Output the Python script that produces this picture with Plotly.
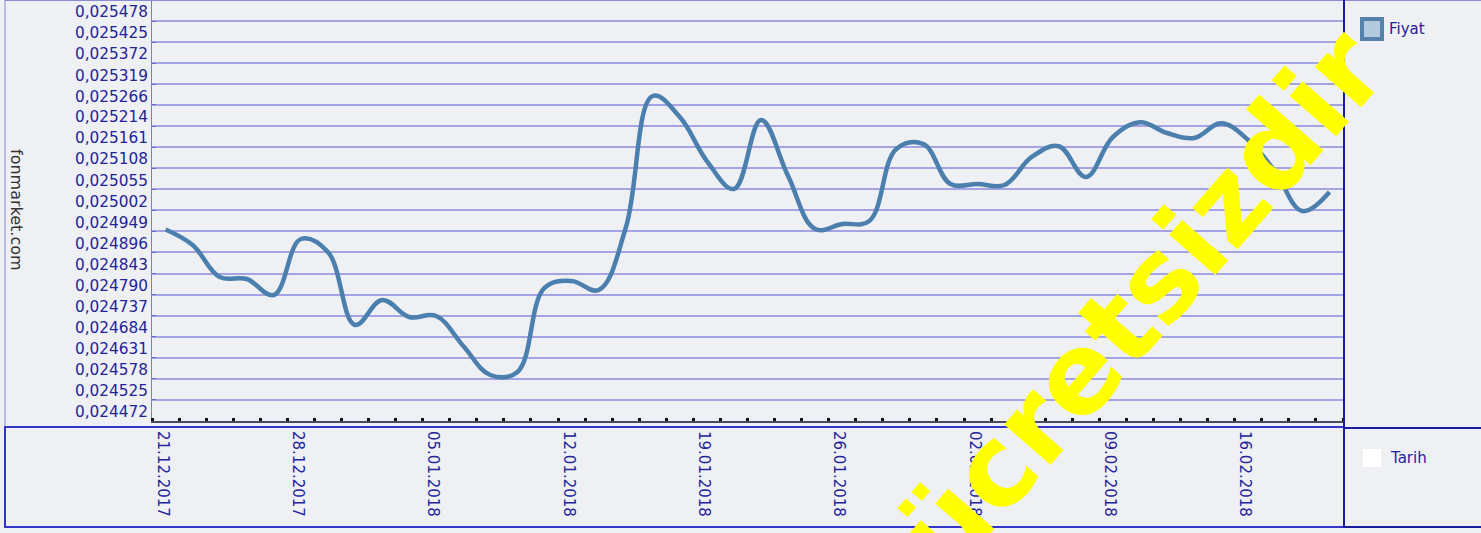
import plotly.graph_objects as go

# ---------------- data ----------------
dates = ["21.12.2017", "22.12.2017", "25.12.2017", "26.12.2017", "27.12.2017",
         "28.12.2017", "29.12.2017", "02.01.2018", "03.01.2018", "04.01.2018",
         "05.01.2018", "08.01.2018", "09.01.2018", "10.01.2018", "11.01.2018",
         "12.01.2018", "15.01.2018", "16.01.2018", "17.01.2018", "18.01.2018",
         "19.01.2018", "22.01.2018", "23.01.2018", "24.01.2018", "25.01.2018",
         "26.01.2018", "29.01.2018", "30.01.2018", "31.01.2018", "01.02.2018",
         "02.02.2018", "05.02.2018", "06.02.2018", "07.02.2018", "08.02.2018",
         "09.02.2018", "12.02.2018", "13.02.2018", "14.02.2018", "15.02.2018",
         "16.02.2018", "19.02.2018", "20.02.2018", "21.02.2018"]

prices = [0.0249007, 0.0248617, 0.0247812, 0.0247762, 0.0247359,
          0.0248768, 0.0248441, 0.0246605, 0.0247234, 0.0246806,
          0.0246831, 0.0246077, 0.0245347, 0.0245423, 0.0247536,
          0.0247712, 0.0247485, 0.0249045, 0.0252365, 0.0251837,
          0.0250730, 0.0250026, 0.0251761, 0.0250353, 0.0249020,
          0.0249145, 0.0249221, 0.0251032, 0.0251153, 0.0250152,
          0.0250152, 0.0250127, 0.0250831, 0.0251102, 0.0250328,
          0.0251334, 0.0251706, 0.0251434, 0.0251309, 0.0251681,
          0.0251258, 0.0250453, 0.0249472, 0.0249950]

y_tick_values = [0.024472, 0.024525, 0.024578, 0.024631, 0.024684,
                 0.024737, 0.024790, 0.024843, 0.024896, 0.024949,
                 0.025002, 0.025055, 0.025108, 0.025161, 0.025214,
                 0.025266, 0.025319, 0.025372, 0.025425, 0.025478]
y_tick_labels = [f"{v:.6f}".replace(".", ",") for v in y_tick_values]
y_range = [0.024419, 0.025478]
label_every = 5

series_name = "Fiyat"
x_name = "Tarih"
axis_title = "fonmarket.com"
watermark = "ücretsizdir"

# ---------------- layout helpers ----------------
W, H = 1481, 533
L, R, T, B = 152, 1343, 0, 421   # plot area in pixels


def fx(px):
    return (px - L) / (R - L)


def fy(py):
    return (B - py) / (B - T)


idx = list(range(len(dates)))
navy = "#23239a"
font_family = "DejaVu Sans"

fig = go.Figure()
fig.add_trace(go.Scatter(
    x=idx, y=prices, mode="lines", name=series_name,
    line=dict(color="#4b7fae", width=4.5, shape="spline", smoothing=1.1),
    text=dates, hovertemplate="%{text}<br>%{y:.6f}<extra></extra>",
    showlegend=False,
))

shapes = []
line_blue = "#3434c8"
dark_blue = "#1c1ca0"
# left border of upper panel
shapes.append(dict(type="line", xref="paper", yref="paper",
                   x0=fx(5), x1=fx(5), y0=fy(0), y1=fy(426),
                   line=dict(color="#8a8ad8", width=1)))
# top border
shapes.append(dict(type="line", xref="paper", yref="paper",
                   x0=fx(5), x1=fx(1481), y0=fy(0.5), y1=fy(0.5),
                   line=dict(color="#8a8ad8", width=1)))
# bottom panel box
shapes.append(dict(type="rect", xref="paper", yref="paper",
                   x0=fx(5), x1=fx(1344), y0=fy(527), y1=fy(427),
                   line=dict(color=line_blue, width=2)))
# right separator
shapes.append(dict(type="line", xref="paper", yref="paper",
                   x0=fx(1344), x1=fx(1344), y0=fy(0), y1=fy(528),
                   line=dict(color=dark_blue, width=2)))
# right panel divider and bottom
shapes.append(dict(type="line", xref="paper", yref="paper",
                   x0=fx(1344), x1=fx(1481), y0=fy(428), y1=fy(428),
                   line=dict(color=dark_blue, width=2)))
shapes.append(dict(type="line", xref="paper", yref="paper",
                   x0=fx(1344), x1=fx(1481), y0=fy(527), y1=fy(527),
                   line=dict(color=dark_blue, width=2)))
# legend icons
shapes.append(dict(type="rect", xref="paper", yref="paper",
                   x0=fx(1362), x1=fx(1382), y0=fy(39), y1=fy(19),
                   line=dict(color="#5581ab", width=4), fillcolor="#b3c9de"))
shapes.append(dict(type="rect", xref="paper", yref="paper",
                   x0=fx(1363), x1=fx(1381), y0=fy(467), y1=fy(449),
                   line=dict(color="#ffffff", width=0), fillcolor="#ffffff"))

annotations = [
    dict(text=axis_title, xref="paper", yref="paper", x=fx(17), y=fy(210),
         showarrow=False, textangle=90, xanchor="center", yanchor="middle",
         font=dict(family=font_family, size=16, color="#333333")),
    dict(text=series_name, xref="paper", yref="paper", x=fx(1387), y=fy(29),
         showarrow=False, xanchor="left", yanchor="middle",
         font=dict(family=font_family, size=15, color=navy)),
    dict(text=x_name, xref="paper", yref="paper", x=fx(1388), y=fy(458),
         showarrow=False, xanchor="left", yanchor="middle",
         font=dict(family=font_family, size=15, color=navy)),
    dict(text="<b>" + watermark + "</b>", xref="paper", yref="paper",
         x=fx(1140), y=fy(302), showarrow=False, textangle=-49,
         xanchor="center", yanchor="middle",
         font=dict(family="DejaVu Sans", size=112, color="#ffff00")),
]

fig.update_layout(
    width=W, height=H, autosize=False,
    margin=dict(l=L, r=W - R, t=T, b=H - B, pad=0),
    paper_bgcolor="#eef0f4", plot_bgcolor="#eef0f4",
    shapes=shapes, annotations=annotations,
    showlegend=False,
    font=dict(family=font_family, size=15, color=navy),
)

fig.update_xaxes(
    range=[-0.5, len(dates) - 0.5],
    tickmode="array", tickvals=idx[::label_every], ticktext=dates[::label_every],
    tickangle=90, ticks="", showgrid=False, zeroline=False,
    showline=True, linecolor="#4a4a66", linewidth=2,
    tickfont=dict(family=font_family, size=15, color=navy),
    ticklabelshift=-3, ticklabelstandoff=5,
    minor=dict(tickmode="array", tickvals=[i - 0.5 for i in range(len(dates) + 1)],
               ticks="inside", ticklen=3, tickwidth=3, tickcolor="#111111",
               showgrid=False),
)

fig.update_yaxes(
    range=y_range,
    tickmode="array", tickvals=y_tick_values, ticktext=y_tick_labels,
    ticks="inside", ticklen=4, tickcolor="#6a6ad0", tickwidth=1,
    showgrid=True, gridcolor="#a4a4e4", gridwidth=2, zeroline=False,
    showline=True, linecolor="#7a7ad8", linewidth=1,
    tickfont=dict(family=font_family, size=15.3, color=navy),
    ticklabelshift=12,
)

fig.write_html("out.html", config={"displayModeBar": False},
               post_script="document.body.style.margin='0px';"
                           "document.body.style.padding='0px';")
